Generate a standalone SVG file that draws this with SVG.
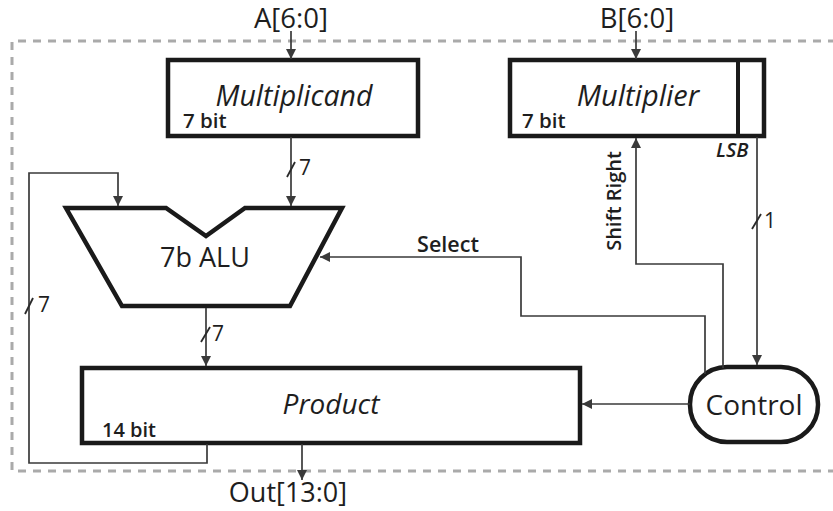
<svg xmlns="http://www.w3.org/2000/svg" width="833" height="511" viewBox="0 0 833 511">
<defs>
<marker id="ah" viewBox="0 0 10 10" refX="10" refY="5" markerWidth="10" markerHeight="10" markerUnits="userSpaceOnUse" orient="auto">
<path d="M0,0 L10,5 L0,10 Z" fill="#3a3a3a"/>
</marker>
<style>
.blk{fill:#fff;stroke:#1a1a1a;stroke-width:4.5}
.w{fill:none;stroke:#3a3a3a;stroke-width:1.7}
.ar{marker-end:url(#ah)}
.t{font-family:"Open Sans","Liberation Sans",sans-serif;fill:#1e1e1e}
.it{font-style:italic}
.sb{font-weight:600}
.sl{stroke:#2a2a2a;stroke-width:1.8;fill:none}
</style>
</defs>
<rect width="833" height="511" fill="#fff"/>
<path id="boundary" d="M836,41 H12 V471 H833" fill="none" stroke="#aaa" stroke-width="3" stroke-dasharray="8 7"/>

<g id="multiplicand">
<rect class="blk" x="168" y="60" width="250" height="76"/>
<text class="t it" x="294" y="106" font-size="28.5" text-anchor="middle">Multiplicand</text>
<text class="t sb" x="183" y="128" font-size="20.5">7 bit</text>
</g>
<g id="multiplier">
<rect class="blk" x="510" y="60" width="254" height="76"/>
<line x1="738" y1="60" x2="738" y2="136" stroke="#1a1a1a" stroke-width="4"/>
<text class="t it" x="638" y="106" font-size="29" text-anchor="middle">Multiplier</text>
<text class="t sb" x="522" y="128" font-size="20.5">7 bit</text>
<text class="t it sb" x="716" y="157" font-size="20">LSB</text>
</g>
<g id="alu">
<polygon class="blk" stroke-width="5" stroke-linejoin="miter" points="66,208 166,208 206,236 245,208 342,208 290,306 122,306"/>
<text class="t" x="205" y="267" font-size="27" text-anchor="middle">7b ALU</text>
</g>
<g id="product">
<rect class="blk" x="82" y="368" width="498" height="75"/>
<text class="t it" x="331" y="414" font-size="28" text-anchor="middle">Product</text>
<text class="t sb" x="102" y="437" font-size="20">14 bit</text>
</g>
<g id="control">
<rect class="blk" x="690" y="367" width="128" height="75" rx="37" ry="37"/>
<text class="t" x="754" y="415" font-size="28" text-anchor="middle">Control</text>
</g>

<g id="connectors">
<line class="w ar" x1="291" y1="31" x2="291" y2="59"/>
<line class="w ar" x1="636" y1="31" x2="636" y2="59"/>
<line class="w ar" x1="291" y1="137" x2="291" y2="206"/>
<polyline class="w ar" points="207,444 207,463 29,463 29,173 118,173 118,206"/>
<line class="w ar" x1="206" y1="308" x2="206" y2="366"/>
<polyline class="w ar" points="705,374 705,316 521,316 521,257 320,257"/>
<polyline class="w ar" points="723,368 723,264 636,264 636,138"/>
<line class="w ar" x1="757" y1="137" x2="757" y2="365"/>
<line class="w ar" x1="690" y1="404" x2="582" y2="404"/>
<line class="w ar" x1="302" y1="444" x2="302" y2="480"/>
<line class="sl" x1="287" y1="177" x2="295" y2="162"/>
<line class="sl" x1="25" y1="314" x2="33" y2="298"/>
<line class="sl" x1="201" y1="342" x2="210" y2="327"/>
<line class="sl" x1="752" y1="229" x2="761" y2="214"/>
</g>

<g id="labels">
<text class="t" x="291" y="28" font-size="27.5" text-anchor="middle">A[6:0]</text>
<text class="t" x="637" y="28" font-size="27.5" text-anchor="middle">B[6:0]</text>
<text class="t" x="288" y="502" font-size="27" text-anchor="middle">Out[13:0]</text>
<text class="t sb" x="448" y="252" font-size="21.5" text-anchor="middle">Select</text>
<text class="t sb" font-size="20" text-anchor="middle" transform="translate(621,201) rotate(-90)">Shift Right</text>
<text class="t" x="299" y="175" font-size="21">7</text>
<text class="t" x="38" y="312" font-size="21">7</text>
<text class="t" x="212" y="341" font-size="21">7</text>
<text class="t" x="764" y="228" font-size="21">1</text>
</g>
</svg>
